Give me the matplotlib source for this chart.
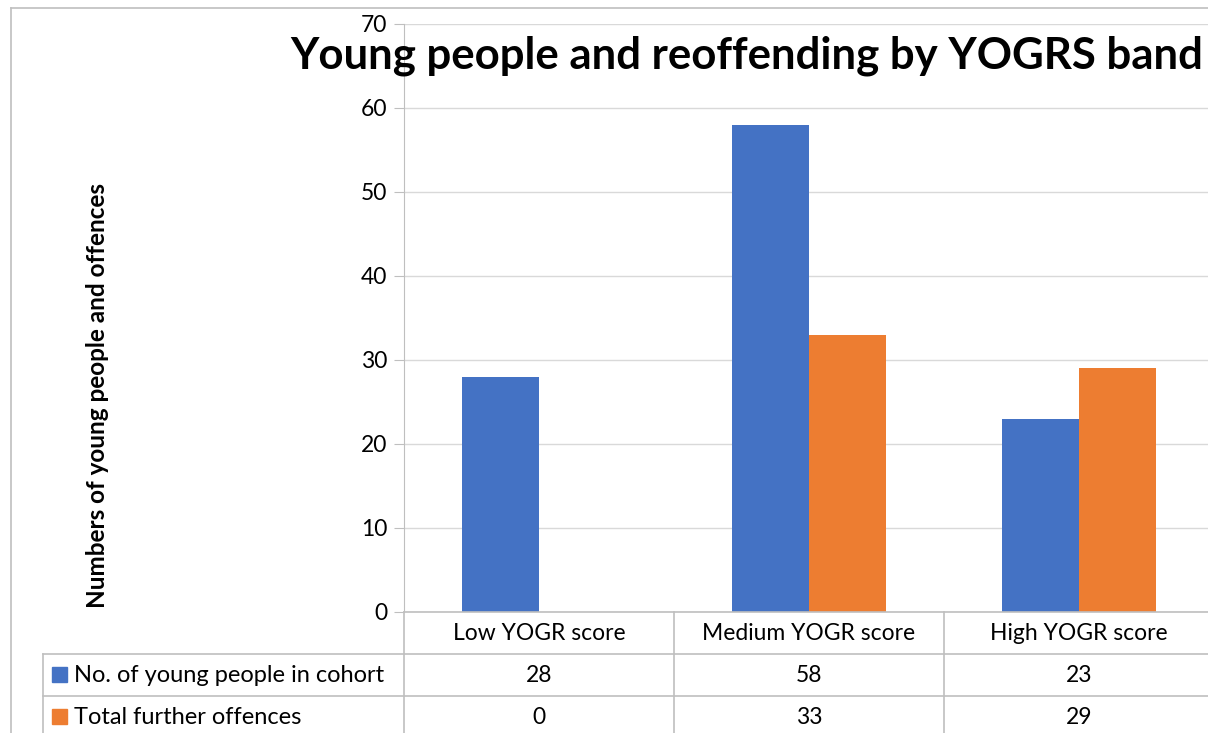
import matplotlib
matplotlib.use("Agg")
import matplotlib.pyplot as plt
from matplotlib.transforms import blended_transform_factory
from matplotlib.patches import Rectangle
import numpy as np

categories = ["Low YOGR score", "Medium YOGR score", "High YOGR score"]
series_names = ["No. of young people in cohort", "Total further offences"]
cohort = [28, 58, 23]
further_offences = [0, 33, 29]
series_values = [cohort, further_offences]
colors = ["#4472C4", "#ED7D31"]
yticks = [0, 10, 20, 30, 40, 50, 60, 70]

plt.rcParams["font.family"] = ["Lato", "DejaVu Sans"]

W, H = 1208, 733
fig = plt.figure(figsize=(W / 100, H / 100), dpi=100)

def fx(px):
    return px / W

def fy(py):
    return 1 - py / H

# plot area in pixels (right edge runs past the crop like the original)
left, right, top, bottom = 404, 1214, 24, 612
ax = fig.add_axes([fx(left), fy(bottom), fx(right - left), (bottom - top) / H])

x = np.arange(len(categories))
bar_w = 77 / 270
for i, (vals, col) in enumerate(zip(series_values, colors)):
    ax.bar(x + (i - 0.5) * bar_w, vals, width=bar_w, color=col, zorder=3)

ax.set_xlim(-0.5, len(categories) - 0.5)
ax.set_ylim(0, 70)
ax.set_yticks(yticks)
ax.set_xticks([])
ax.yaxis.grid(True, color="#D9D9D9", linewidth=1.0, zorder=0)
for s in ["top", "right", "bottom"]:
    ax.spines[s].set_visible(False)
ax.spines["left"].set_color("#BFBFBF")
ax.tick_params(axis="y", direction="out", length=7, color="#BFBFBF",
               labelsize=16.5, labelcolor="#000000", pad=5)

fig.text(fx(98), fy(395), "Numbers of young people and offences", rotation=90,
         ha="center", va="center", fontsize=17.5, fontweight="bold")

fig.text(fx(747), fy(56), "Young people and reoffending by YOGRS band",
         ha="center", va="center", fontsize=31.5, fontweight="bold")

# data table under the plot
line_col = "#BFBFBF"
tr = blended_transform_factory(ax.transData, fig.transFigure)
row_tops = [612, 654, 696, 738]
tab_left = 43

def hline(x0, x1, py):
    fig.add_artist(plt.Line2D([fx(x0), fx(x1)], [fy(py), fy(py)],
                              color=line_col, linewidth=1.2))

def vline(px, y0, y1):
    fig.add_artist(plt.Line2D([fx(px), fx(px)], [fy(y0), fy(y1)],
                              color=line_col, linewidth=1.2))

hline(left, W, 612)
hline(tab_left, W, 654)
hline(tab_left, W, 696)
vline(left, 612, H)
vline(tab_left, 654, H)
for b in np.arange(0.5, len(categories) - 0.5, 1.0):
    fig.add_artist(plt.Line2D([b, b], [fy(612), fy(H)], transform=tr,
                              color=line_col, linewidth=1.2))

for i, cat in enumerate(categories):
    fig.text(i, fy(633), cat, transform=tr, ha="center", va="center", fontsize=16.5)

for r, (name, vals, col) in enumerate(zip(series_names, series_values, colors)):
    yc = (row_tops[r + 1] + row_tops[r + 2]) / 2
    fig.add_artist(Rectangle((fx(52), fy(yc + 7)), fx(15), 15 / H,
                             transform=fig.transFigure, color=col))
    fig.text(fx(74), fy(yc), name, ha="left", va="center", fontsize=17)
    for i, v in enumerate(vals):
        fig.text(i, fy(yc), str(v), transform=tr, ha="center", va="center", fontsize=16.5)

# outer chart frame
hline(11, W, 8)
vline(11, 8, H)

fig.savefig("out.png", dpi=100)
